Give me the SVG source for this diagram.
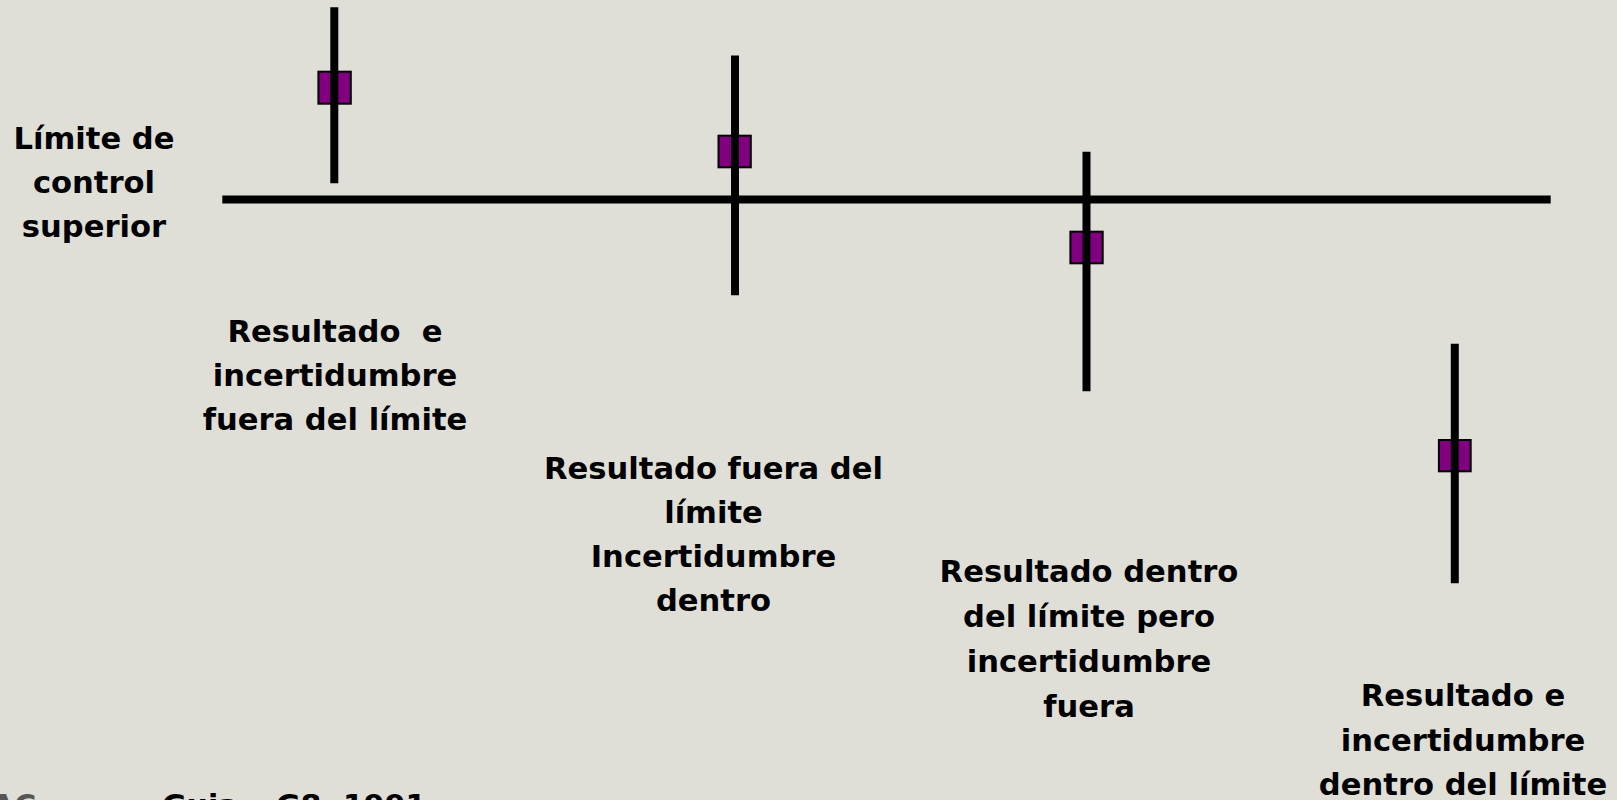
<svg xmlns="http://www.w3.org/2000/svg" width="1617" height="800" viewBox="0 0 1617 800">
<style>
.bar{stroke:#000;stroke-width:8;stroke-linecap:butt;fill:none}
.pt{fill:#800080;stroke:#000;stroke-width:2}
.lbl{font-family:"DejaVu Sans","Liberation Sans",sans-serif;font-weight:bold;font-size:30.6px;fill:#000;text-anchor:middle}
.src{font-family:"DejaVu Sans","Liberation Sans",sans-serif;font-weight:bold;font-size:30px;fill:#000}
</style>
<rect x="0" y="0" width="1617" height="800" fill="#DFDFD7"/>
<g id="connectors">
<line id="limit-line" class="bar" x1="222.3" y1="199.4" x2="1550.7" y2="199.4"/>
</g>
<g id="limit-label">
<text class="lbl" x="94" y="149">Límite de</text>
<text class="lbl" x="94" y="193">control</text>
<text class="lbl" x="94" y="237">superior</text>
</g>
<g id="case1">
<rect class="pt" x="318.4" y="71.7" width="32.4" height="32"/>
<line class="bar" x1="334.3" y1="7.3" x2="334.3" y2="183.3"/>
<text class="lbl" x="335" y="342" xml:space="preserve">Resultado  e</text>
<text class="lbl" x="335" y="386">incertidumbre</text>
<text class="lbl" x="335" y="430">fuera del límite</text>
</g>
<g id="case2">
<rect class="pt" x="718.5" y="135.7" width="32.3" height="31.6"/>
<line class="bar" x1="735" y1="55.5" x2="735" y2="295.3"/>
<text class="lbl" x="713.5" y="479">Resultado fuera del</text>
<text class="lbl" x="713.5" y="523">límite</text>
<text class="lbl" x="713.5" y="567">Incertidumbre</text>
<text class="lbl" x="713.5" y="611">dentro</text>
</g>
<g id="case3">
<rect class="pt" x="1070.4" y="231.7" width="32.3" height="31.6"/>
<line class="bar" x1="1086.5" y1="151.7" x2="1086.5" y2="391.3"/>
<text class="lbl" x="1089" y="581.5">Resultado dentro</text>
<text class="lbl" x="1089" y="626.5">del límite pero</text>
<text class="lbl" x="1089" y="671.5">incertidumbre</text>
<text class="lbl" x="1089" y="716.5">fuera</text>
</g>
<g id="case4">
<rect class="pt" x="1438.9" y="440" width="31.8" height="31.3"/>
<line class="bar" x1="1454.8" y1="343.7" x2="1454.8" y2="583.3"/>
<text class="lbl" x="1463" y="706">Resultado e</text>
<text class="lbl" x="1463" y="750.5">incertidumbre</text>
<text class="lbl" x="1463" y="795">dentro del límite</text>
</g>
<g id="source">
<text class="src" x="-9" y="816" style="fill:#555555">AC</text>
<text class="src" x="162" y="816">Guia</text>
<text class="src" x="276" y="816">G8</text>
<text class="src" x="343" y="816">1991</text>
</g>
</svg>
